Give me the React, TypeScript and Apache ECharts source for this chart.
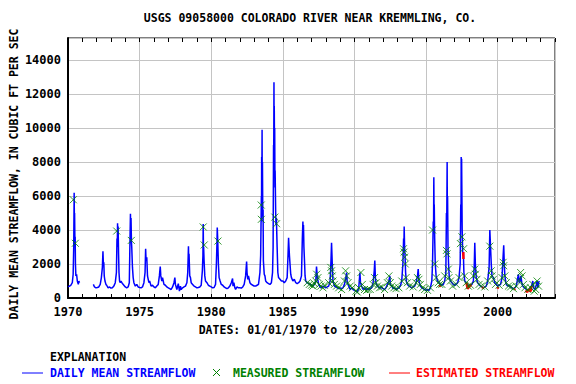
import React, { useEffect, useRef } from "react";
import * as echarts from "echarts";

const TITLE = "USGS 09058000 COLORADO RIVER NEAR KREMMLING, CO.";
const Y_NAME = "DAILY MEAN STREAMFLOW, IN CUBIC FT PER SEC";
const X_NAME = "DATES: 01/01/1970 to 12/20/2003";
const LEGEND_TITLE = "EXPLANATION";
const LEGEND_ITEMS = ["DAILY MEAN STREAMFLOW", "MEASURED STREAMFLOW", "ESTIMATED STREAMFLOW"];

// [decimal year, cfs]; "-" marks a gap in the record
const dailyFlow: (number | string)[][] = [
  [1970.0, 650], [1970.1, 700], [1970.2, 750], [1970.3, 900], [1970.36, 1400], [1970.4, 3000], [1970.42, 5200], [1970.43, 6200], [1970.45, 4200], [1970.46, 5000], [1970.48, 3500], [1970.5, 3600], [1970.52, 2000], [1970.55, 1300], [1970.6, 1400], [1970.65, 1000], [1970.72, 800], [1970.76, 1000], [1970.8, 900],
  [1971.0, "-"],
  [1971.77, 800], [1971.85, 650], [1971.95, 600],
  [1972.05, 620], [1972.15, 650], [1972.25, 800], [1972.33, 1200], [1972.4, 1800], [1972.44, 2750], [1972.47, 2000], [1972.5, 2100], [1972.53, 1300], [1972.58, 1000], [1972.65, 800], [1972.7, 750], [1972.8, 600], [1972.9, 650],
  [1973.0, 580], [1973.1, 600], [1973.2, 700], [1973.3, 900], [1973.38, 1500], [1973.42, 3500], [1973.44, 3000], [1973.46, 4400], [1973.48, 3600], [1973.5, 4200], [1973.53, 2600], [1973.56, 1500], [1973.6, 1000], [1973.65, 900], [1973.7, 1000], [1973.8, 850], [1973.9, 750],
  [1974.0, 650], [1974.1, 600], [1974.2, 650], [1974.28, 900], [1974.33, 3500], [1974.36, 4950], [1974.38, 3800], [1974.4, 4700], [1974.43, 3300], [1974.45, 3000], [1974.5, 1800], [1974.55, 1200], [1974.6, 900], [1974.7, 700], [1974.8, 800], [1974.9, 650],
  [1975.0, 620], [1975.1, 600], [1975.2, 650], [1975.3, 900], [1975.38, 1500], [1975.42, 2900], [1975.45, 2200], [1975.5, 2400], [1975.55, 1300], [1975.6, 1100], [1975.65, 900], [1975.7, 1000], [1975.8, 700], [1975.9, 750],
  [1976.0, 650], [1976.1, 600], [1976.2, 700], [1976.3, 800], [1976.38, 1300], [1976.44, 1850], [1976.48, 1300], [1976.55, 1000], [1976.6, 1200], [1976.7, 800], [1976.8, 750], [1976.9, 650],
  [1977.0, 600], [1977.1, 550], [1977.2, 500], [1977.3, 650], [1977.4, 900], [1977.46, 1200], [1977.5, 800], [1977.6, 500], [1977.7, 850], [1977.78, 400], [1977.85, 700], [1977.9, 500],
  [1978.0, 600], [1978.1, 650], [1978.2, 700], [1978.3, 900], [1978.36, 1500], [1978.41, 3050], [1978.43, 2200], [1978.45, 2600], [1978.5, 1300], [1978.55, 1200], [1978.6, 900], [1978.7, 800], [1978.8, 700], [1978.9, 650],
  [1979.0, 600], [1979.1, 620], [1979.2, 650], [1979.3, 750], [1979.38, 1600], [1979.42, 2500], [1979.44, 4350], [1979.46, 2600], [1979.47, 3000], [1979.5, 2200], [1979.55, 1300], [1979.6, 1000], [1979.7, 900], [1979.8, 750], [1979.9, 700],
  [1980.0, 650], [1980.1, 600], [1980.2, 620], [1980.3, 800], [1980.36, 2000], [1980.4, 3200], [1980.42, 4150], [1980.45, 3500], [1980.5, 2000], [1980.55, 1200], [1980.62, 1000], [1980.7, 800], [1980.8, 750], [1980.9, 650],
  [1981.0, 600], [1981.1, 550], [1981.2, 600], [1981.3, 700], [1981.4, 900], [1981.49, 1150], [1981.52, 700], [1981.58, 900], [1981.65, 600], [1981.7, 500], [1981.8, 650], [1981.9, 600],
  [1982.0, 600], [1982.1, 580], [1982.2, 650], [1982.3, 800], [1982.4, 1300], [1982.47, 2150], [1982.5, 1500], [1982.55, 1100], [1982.6, 1300], [1982.7, 900], [1982.8, 800], [1982.9, 750],
  [1983.0, 700], [1983.1, 700], [1983.2, 750], [1983.3, 800], [1983.4, 1500], [1983.45, 2500], [1983.5, 6000], [1983.51, 4500], [1983.52, 8300], [1983.535, 7000], [1983.55, 9900], [1983.56, 6500], [1983.575, 8000], [1983.6, 4800], [1983.62, 5200], [1983.64, 2200], [1983.7, 1400], [1983.75, 1300], [1983.8, 1000], [1983.9, 900],
  [1984.0, 850], [1984.1, 800], [1984.2, 900], [1984.28, 1500], [1984.32, 3000], [1984.35, 9000], [1984.36, 7500], [1984.38, 12700], [1984.39, 9500], [1984.4, 11300], [1984.42, 8500], [1984.43, 10000], [1984.45, 6500], [1984.46, 7500], [1984.5, 5000], [1984.52, 4300], [1984.55, 4700], [1984.6, 3000], [1984.65, 1500], [1984.7, 1200], [1984.8, 1100], [1984.9, 1000],
  [1985.0, 1000], [1985.1, 900], [1985.2, 1000], [1985.3, 1200], [1985.36, 2500], [1985.4, 3550], [1985.43, 3000], [1985.46, 2500], [1985.5, 2000], [1985.55, 1400], [1985.6, 1200], [1985.7, 1000], [1985.8, 1100], [1985.9, 900],
  [1986.0, 850], [1986.1, 900], [1986.2, 1000], [1986.3, 1300], [1986.36, 3500], [1986.4, 4500], [1986.42, 3800], [1986.44, 4300], [1986.47, 3000], [1986.52, 2000], [1986.55, 1300], [1986.6, 1000], [1986.7, 900], [1986.8, 850], [1986.9, 800],
  [1987.0, 750], [1987.1, 700], [1987.2, 800], [1987.3, 1000], [1987.35, 1850], [1987.4, 1300], [1987.45, 1000], [1987.5, 800], [1987.6, 650], [1987.7, 600], [1987.8, 700], [1987.9, 650],
  [1988.0, 600], [1988.1, 650], [1988.2, 700], [1988.3, 1000], [1988.36, 2200], [1988.4, 3250], [1988.43, 2500], [1988.47, 1500], [1988.5, 1000], [1988.6, 700], [1988.7, 650], [1988.8, 600], [1988.9, 550],
  [1989.0, 600], [1989.1, 550], [1989.2, 600], [1989.3, 800], [1989.4, 1200], [1989.45, 1500], [1989.5, 900], [1989.6, 700], [1989.7, 500], [1989.8, 600], [1989.9, 500],
  [1990.0, 450], [1990.1, 400], [1990.2, 350], [1990.3, 600], [1990.38, 1500], [1990.42, 900], [1990.5, 700], [1990.6, 500], [1990.7, 600], [1990.8, 500], [1990.9, 550],
  [1991.0, 500], [1991.1, 550], [1991.2, 600], [1991.3, 900], [1991.38, 1600], [1991.42, 2200], [1991.46, 1200], [1991.5, 900], [1991.6, 700], [1991.7, 600], [1991.8, 650], [1991.9, 600],
  [1992.0, 550], [1992.1, 500], [1992.2, 600], [1992.3, 800], [1992.4, 1000], [1992.47, 1300], [1992.5, 800], [1992.6, 700], [1992.7, 550], [1992.8, 600], [1992.9, 500],
  [1993.0, 550], [1993.1, 600], [1993.2, 700], [1993.3, 1000], [1993.38, 2000], [1993.43, 3500], [1993.45, 2900], [1993.47, 4200], [1993.5, 3000], [1993.53, 2500], [1993.57, 1500], [1993.62, 1000], [1993.7, 800], [1993.8, 700], [1993.9, 650],
  [1994.0, 600], [1994.1, 650], [1994.2, 700], [1994.3, 900], [1994.4, 1300], [1994.45, 1700], [1994.5, 1000], [1994.6, 700], [1994.7, 600], [1994.8, 550], [1994.9, 500],
  [1995.0, 450], [1995.1, 500], [1995.2, 450], [1995.3, 600], [1995.4, 1000], [1995.45, 2000], [1995.5, 4500], [1995.52, 3800], [1995.54, 7100], [1995.56, 4800], [1995.57, 5500], [1995.6, 3500], [1995.64, 2000], [1995.7, 1300], [1995.8, 1000], [1995.9, 900],
  [1996.0, 800], [1996.1, 750], [1996.2, 800], [1996.3, 1000], [1996.38, 1500], [1996.42, 5000], [1996.44, 4200], [1996.47, 8000], [1996.48, 5500], [1996.5, 6000], [1996.53, 3000], [1996.57, 2000], [1996.62, 1200], [1996.7, 1000], [1996.8, 900], [1996.9, 800],
  [1997.0, 750], [1997.1, 800], [1997.2, 900], [1997.3, 1200], [1997.38, 2000], [1997.42, 5500], [1997.44, 4500], [1997.45, 8300], [1997.47, 6000], [1997.48, 8200], [1997.52, 4000], [1997.56, 2500], [1997.6, 2700], [1997.64, 1500], [1997.7, 1000], [1997.8, 900], [1997.9, 800],
  [1998.0, 700], [1998.1, 750], [1998.2, 800], [1998.3, 1000], [1998.36, 1800], [1998.4, 3250], [1998.44, 2000], [1998.5, 1200], [1998.6, 900], [1998.7, 800], [1998.8, 700], [1998.9, 650],
  [1999.0, 600], [1999.1, 650], [1999.2, 700], [1999.3, 1000], [1999.4, 1800], [1999.45, 4000], [1999.5, 3000], [1999.55, 2000], [1999.6, 1300], [1999.7, 1200], [1999.8, 900], [1999.9, 800],
  [2000.0, 700], [2000.1, 750], [2000.2, 800], [2000.3, 1200], [2000.38, 2500], [2000.42, 3100], [2000.46, 2000], [2000.5, 1300], [2000.55, 1000], [2000.6, 800], [2000.7, 700], [2000.8, 750], [2000.9, 650],
  [2001.0, 600], [2001.1, 550], [2001.2, 600], [2001.3, 700], [2001.4, 1200], [2001.45, 1400], [2001.5, 900], [2001.55, 1000], [2001.62, 1300], [2001.68, 900], [2001.75, 700], [2001.85, 600], [2001.95, 550],
  [2002.0, 500], [2002.1, 450], [2002.2, 500], [2002.3, 600], [2002.4, 800], [2002.45, 1000], [2002.5, 600], [2002.6, 500], [2002.7, 800], [2002.75, 1000], [2002.8, 600], [2002.85, 900], [2002.9, 1000],
];

const estimatedFlow: (number | string)[][] = [
  [1995.94, 650], [1995.98, 750], [1996.0, "-"],
  [1997.6, 2700], [1997.61, 2300], [1997.62, "-"],
  [1997.82, 900], [1997.9, 550], [1998.0, 650], [1998.15, 800], [1998.16, "-"],
  [1998.93, 550], [1999.0, 650], [1999.01, "-"],
  [1999.97, 550], [2000.05, 650], [2000.06, "-"],
  [2001.15, 500], [2001.22, 550], [2001.23, "-"],
  [2001.95, 450], [2002.05, 350], [2002.15, 500], [2002.3, 400], [2002.36, 700], [2002.37, "-"],
];

const measuredFlow: number[][] = [
  [1970.37, 5780], [1970.51, 3220],
  [1973.4, 3940], [1974.42, 3390],
  [1979.44, 4180], [1979.51, 3120], [1980.47, 3350],
  [1983.49, 5470], [1983.5, 4630], [1984.44, 4760], [1984.56, 4370],
  [1986.7, 900], [1986.85, 800], [1987.0, 750], [1987.1, 700], [1987.2, 850],
  [1987.3, 1000], [1987.36, 1400], [1987.45, 1200], [1987.55, 800], [1987.65, 700], [1987.8, 600], [1987.9, 750],
  [1988.2, 900], [1988.35, 1800], [1988.4, 1600], [1988.45, 1300], [1988.5, 1000], [1988.6, 800], [1988.75, 700], [1988.9, 600],
  [1989.1, 500], [1989.3, 1000], [1989.38, 1600], [1989.45, 1300], [1989.55, 900], [1989.7, 700], [1989.85, 600],
  [1990.1, 400], [1990.2, 350], [1990.3, 600], [1990.45, 1500], [1990.55, 800], [1990.7, 500], [1990.85, 450], [1990.95, 500],
  [1991.1, 500], [1991.3, 800], [1991.4, 1200], [1991.5, 900], [1991.6, 700], [1991.75, 600], [1991.9, 650],
  [1992.1, 500], [1992.3, 900], [1992.4, 1300], [1992.5, 900], [1992.6, 700], [1992.75, 600], [1992.9, 550],
  [1993.1, 600], [1993.3, 1000], [1993.42, 2900], [1993.46, 2700], [1993.5, 2400], [1993.55, 2000], [1993.6, 1200], [1993.7, 900], [1993.85, 700],
  [1994.1, 650], [1994.3, 900], [1994.4, 1200], [1994.5, 1100], [1994.6, 800], [1994.75, 600], [1994.9, 500],
  [1995.1, 450], [1995.3, 600], [1995.45, 4000], [1995.6, 2000], [1995.7, 1200], [1995.85, 900], [1995.95, 800],
  [1996.1, 800], [1996.3, 1300], [1996.42, 2800], [1996.46, 2600], [1996.55, 1700], [1996.6, 1200], [1996.7, 1000], [1996.85, 700],
  [1997.1, 800], [1997.3, 1200], [1997.4, 3200], [1997.5, 3600], [1997.62, 2900], [1997.7, 1300], [1997.8, 900], [1997.95, 700],
  [1998.1, 750], [1998.3, 1300], [1998.4, 1700], [1998.45, 1400], [1998.55, 1100], [1998.7, 800], [1998.85, 700],
  [1999.1, 650], [1999.3, 1000], [1999.45, 3050], [1999.55, 1600], [1999.6, 1300], [1999.7, 1100], [1999.85, 800],
  [2000.1, 750], [2000.3, 1200], [2000.38, 2100], [2000.42, 1900], [2000.5, 1300], [2000.6, 900], [2000.75, 700], [2000.9, 650],
  [2001.1, 550], [2001.3, 700], [2001.45, 1000], [2001.6, 1500], [2001.7, 1300], [2001.8, 800], [2001.9, 600],
  [2002.1, 500], [2002.3, 600], [2002.45, 800], [2002.55, 400], [2002.65, 500], [2002.75, 1000], [2002.85, 700],
];

const X_MIN = 1970;
const X_MAX = 2004;
const Y_MAX = 15300;

const FONT = "DejaVu Sans Mono";
const BLUE = "#0000ff";
const GREEN = "#008000";
const RED = "#ff0000";
const GRID = "#c4c4c4";

export default function App() {
  const ref = useRef<HTMLDivElement>(null);
  useEffect(() => {
    if (!ref.current) return;
    const chart = echarts.init(ref.current, null, { renderer: "svg" });
    const font = (s: number) => `bold ${s}px "${FONT}"`;
    const plain = (v: number) => String(Math.round(v));
    const tickAxis = (position: "top" | "bottom") => ({
      type: "value",
      position,
      min: X_MIN,
      max: X_MAX,
      interval: 1,
      axisLine: { show: false },
      axisLabel: { show: false },
      splitLine: { show: false },
      axisTick: { show: true, inside: true, length: 4, lineStyle: { color: "#000", width: 1 } },
    });
    chart.setOption({
      animation: false,
      backgroundColor: "#fff",
      grid: { left: 68, right: 21, top: 38, bottom: 86, show: true, borderColor: "#000", borderWidth: 1 },
      xAxis: [
        {
          type: "value",
          min: X_MIN,
          max: X_MAX,
          interval: 5,
          axisLine: { show: true, lineStyle: { color: "#000", width: 2 } },
          axisTick: { show: false },
          axisLabel: { color: "#000", fontFamily: FONT, fontWeight: "bold", fontSize: 12, margin: 8, showMaxLabel: false, formatter: plain },
          splitLine: { show: true, lineStyle: { color: GRID, width: 1 } },
        },
        tickAxis("bottom"),
        tickAxis("top"),
      ],
      yAxis: {
        type: "value",
        min: 0,
        max: Y_MAX,
        interval: 2000,
        axisLine: { show: true, lineStyle: { color: "#000", width: 2 } },
        axisTick: { show: false },
        axisLabel: { color: "#000", fontFamily: FONT, fontWeight: "bold", fontSize: 12, margin: 7, showMaxLabel: false, formatter: plain },
        splitLine: { show: true, lineStyle: { color: GRID, width: 1 } },
      },
      series: [
        {
          type: "line",
          data: dailyFlow,
          xAxisIndex: 0,
          showSymbol: false,
          symbol: "none",
          connectNulls: false,
          lineStyle: { color: BLUE, width: 1.5 },
          z: 2,
        },
        {
          type: "line",
          data: estimatedFlow,
          xAxisIndex: 0,
          showSymbol: false,
          symbol: "none",
          connectNulls: false,
          lineStyle: { color: RED, width: 2.5 },
          z: 3,
        },
        {
          type: "scatter",
          data: measuredFlow,
          xAxisIndex: 0,
          symbol: "path://M0,0L10,10M10,0L0,10",
          symbolSize: 7,
          itemStyle: { color: "rgba(0,0,0,0)", borderColor: GREEN, borderWidth: 1 },
          z: 4,
        },
      ],
      graphic: [
        { type: "text", x: 310, y: 18, style: { text: TITLE, font: font(11.5), fill: "#000", textAlign: "center", textVerticalAlign: "middle" } },
        { type: "text", x: 14, y: 174, rotation: Math.PI / 2, style: { text: Y_NAME, font: font(11.5), fill: "#000", textAlign: "center", textVerticalAlign: "middle" } },
        { type: "text", x: 306, y: 330, style: { text: X_NAME, font: font(11.5), fill: "#000", textAlign: "center", textVerticalAlign: "middle" } },
        { type: "text", x: 50, y: 357, style: { text: LEGEND_TITLE, font: font(11.5), fill: "#000", textAlign: "left", textVerticalAlign: "middle" } },
        { type: "line", shape: { x1: 22, y1: 373, x2: 43, y2: 373 }, style: { stroke: BLUE, lineWidth: 1 } },
        { type: "text", x: 50, y: 373, style: { text: LEGEND_ITEMS[0], font: font(11.5), fill: BLUE, textAlign: "left", textVerticalAlign: "middle" } },
        { type: "line", shape: { x1: 213, y1: 369, x2: 220, y2: 376 }, style: { stroke: GREEN, lineWidth: 1 } },
        { type: "line", shape: { x1: 220, y1: 369, x2: 213, y2: 376 }, style: { stroke: GREEN, lineWidth: 1 } },
        { type: "text", x: 233, y: 373, style: { text: LEGEND_ITEMS[1], font: font(11.5), fill: GREEN, textAlign: "left", textVerticalAlign: "middle" } },
        { type: "line", shape: { x1: 389, y1: 373, x2: 410, y2: 373 }, style: { stroke: RED, lineWidth: 1 } },
        { type: "text", x: 416, y: 373, style: { text: LEGEND_ITEMS[2], font: font(11.5), fill: RED, textAlign: "left", textVerticalAlign: "middle" } },
      ],
    });
    return () => chart.dispose();
  }, []);
  return <div ref={ref} style={{ width: 576, height: 384, position: "absolute", left: 0, top: 0 }} />;
}
